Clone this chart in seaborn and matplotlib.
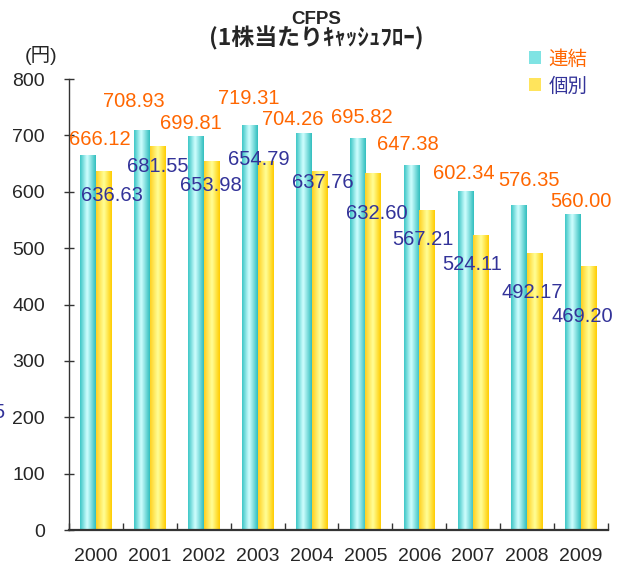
import numpy as np
import pandas as pd
import matplotlib
matplotlib.use("Agg")
import matplotlib.pyplot as plt
import seaborn as sns
from matplotlib.colors import LinearSegmentedColormap
from matplotlib.patches import Patch

# =========================
# DATA
# =========================
years = ["2000", "2001", "2002", "2003", "2004", "2005", "2006", "2007", "2008", "2009"]
consolidated = [666.12, 708.93, 699.81, 719.31, 704.26, 695.82, 647.38, 602.34, 576.35, 560.00]
standalone = [636.63, 681.55, 653.98, 654.79, 637.76, 632.60, 567.21, 524.11, 492.17, 469.20]
series_names = ["連結", "個別"]

# label offsets from bar top (pixels, x right / y up) - hand placed like the original
cons_off = [(12, 15), (-8, 29), (-5, 12), (-1, 26), (-11, 14), (4, 20), (-4, 21), (-2, 17), (10, 25), (8, 13)]
stand_off = [(8, -24), (0, -21), (-1, -24), (-7, 1), (3, -12), (4, -40), (-4, -29), (-9, -30), (-3, -40), (-6, -51)]

ORANGE = "#FF6600"
BLUE = "#333399"
DPI = 100

df = pd.DataFrame({
    "year": years * 2,
    "value": consolidated + standalone,
    "series": [series_names[0]] * len(years) + [series_names[1]] * len(years),
})

sns.set_style("white")
plt.rcParams["font.family"] = ["Liberation Sans", "Noto Sans CJK JP"]

fig = plt.figure(figsize=(6.28, 5.69), dpi=DPI)
ax = fig.add_axes([0.110, 0.0685, 0.858, 0.7925])

sns.barplot(data=df, x="year", y="value", hue="series", hue_order=series_names,
            width=0.58, gap=0, palette=["#66DDDD", "#FFE566"], legend=False, ax=ax,
            linewidth=0)

# gradient fill like the excel bars
cyan_cmap = LinearSegmentedColormap.from_list("cy", [(0, "#3CC6C6"), (0.45, "#D2FFFF"), (1, "#30BEBE")])
yel_cmap = LinearSegmentedColormap.from_list("ye", [(0, "#FFD020"), (0.5, "#FFFF99"), (1, "#FFCC00")])
grad = np.linspace(0, 1, 64).reshape(1, -1)
for container, cmap in zip(ax.containers, [cyan_cmap, yel_cmap]):
    for patch in container:
        x, w, h = patch.get_x(), patch.get_width(), patch.get_height()
        im = ax.imshow(grad, cmap=cmap, extent=[x, x + w, 0, h], aspect="auto",
                       interpolation="bicubic", zorder=patch.get_zorder() + 0.1)
        im.set_clip_path(patch)

ax.set_xlim(-0.5, 9.5)
ax.set_ylim(0, 800)
ax.set_yticks(range(0, 801, 100))
ax.set_xlabel("")
ax.set_ylabel("")

# value labels
px2pt = 72 / DPI
for container, vals, offs, col in zip(ax.containers, [consolidated, standalone],
                                      [cons_off, stand_off], [ORANGE, BLUE]):
    for patch, v, (dx, dy) in zip(container, vals, offs):
        ax.annotate(f"{v:.2f}", (patch.get_x() + patch.get_width() / 2, v),
                    xytext=(dx * px2pt, dy * px2pt), textcoords="offset points",
                    ha="center", va="center", fontsize=14.5, color=col, zorder=5)

# axes styling
sns.despine(ax=ax, top=True, right=True)
ax.spines["left"].set_color("#333333")
ax.spines["left"].set_linewidth(1.0)
ax.spines["bottom"].set_color("#333333")
ax.spines["bottom"].set_linewidth(1.6)
ax.tick_params(axis="y", direction="inout", length=7, width=1, color="#333333",
               labelsize=14, pad=14, left=True)
ax.set_xticks(np.arange(-0.5, 10, 1), minor=True)
ax.tick_params(axis="x", which="minor", direction="in", length=5, width=1, color="#333333", bottom=True)
ax.tick_params(axis="x", which="major", length=0, labelsize=14, pad=13)

# legend
handles = [Patch(facecolor="#7FE3E3", edgecolor="none"), Patch(facecolor="#FFE45C", edgecolor="none")]
leg = fig.legend(handles, series_names, loc="upper left", bbox_to_anchor=(0.842, 0.912),
                 frameon=False, fontsize=14, handlelength=0.65, handleheight=0.65,
                 handletextpad=0.35, labelspacing=0.45, borderpad=0, borderaxespad=0)
for t, c in zip(leg.get_texts(), [ORANGE, BLUE]):
    t.set_color(c)

# titles and unit
fig.text(0.503, 0.966, "CFPS", ha="center", va="center", fontsize=13.5, fontweight="bold")
fig.text(0.503, 0.932, "(1株当たりｷｬｯｼｭﾌﾛｰ)", ha="center", va="center", fontsize=16.5,
         fontweight="bold", family=["Noto Sans CJK JP", "DejaVu Sans"])
fig.text(0.065, 0.903, "(円)", ha="center", va="center", fontsize=14)
fig.text(0.007, 1 - 413 / 569, "5", ha="right", va="center", fontsize=14.5, color=BLUE)

plt.savefig("out.png", dpi=DPI)
